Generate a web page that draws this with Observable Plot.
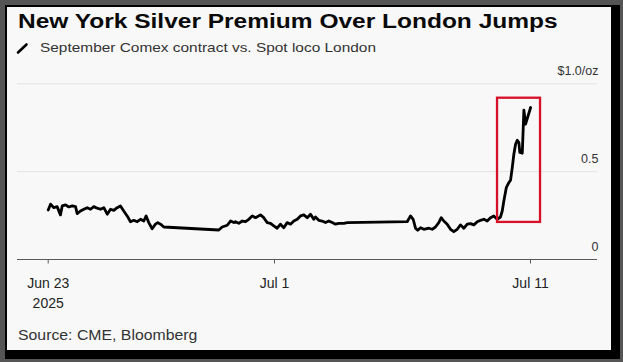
<!DOCTYPE html>
<html>
<head>
<meta charset="utf-8">
<script src="https://cdn.jsdelivr.net/npm/d3@7"></script>
<script src="https://cdn.jsdelivr.net/npm/@observablehq/plot@0.6"></script>
<style>
  html, body { margin: 0; padding: 0; }
  body { width: 623px; height: 362px; overflow: hidden; background: #555; position: relative;
         font-family: "Liberation Sans", Arial, sans-serif; }
  #shadow { position: absolute; left: 5px; top: 5px; width: 615px; height: 354px; background: #000; }
  #panel { position: absolute; left: 6.5px; top: 6.5px; width: 604px; height: 343.5px; background: #f8f8f8; }
  .t { position: absolute; white-space: nowrap; transform-origin: 0 0; }
  #title { left: 18px; top: 11.4px; font-size: 20px; line-height: 20px; font-weight: bold; color: #0a0a0a; transform: scaleX(1.225); }
  #subtitle { left: 39.5px; top: 40.7px; font-size: 13px; line-height: 13px; color: #333; transform: scaleX(1.186); }
  #caption { left: 18px; top: 328.2px; font-size: 14px; line-height: 14px; color: #333; transform: scaleX(1.13); }
  #key { position: absolute; left: 0; top: 0; }
  #chart { position: absolute; left: 0; top: 0; }
</style>
</head>
<body>
<div id="shadow"></div>
<div id="panel"></div>
<div id="chart"></div>
<svg id="key" width="40" height="60"><line x1="18" y1="52.5" x2="26.5" y2="44.5" stroke="#000" stroke-width="2.6" stroke-linecap="round"/></svg>
<div class="t" id="title">New York Silver Premium Over London Jumps</div>
<div class="t" id="subtitle">September Comex contract vs. Spot loco London</div>
<div class="t" id="caption">Source: CME, Bloomberg</div>
<script>
// Hours since 2025-06-23 00:00 UTC
const hours = [0,2,4.8,7.6,10.4,11.9,14.7,17.5,20.4,23.2,24.6,27.4,30.2,33.1,35.9,38.7,41.6,44.4,47.2,50.1,
  52.9,55.7,58.5,61.3,64.1,67,69.8,72.6,75.5,78.3,81.1,83.1,85.3,88.2,91,93,95.3,98.1,
  144.7,147.6,151.9,154.7,157.5,158.9,161.7,164.6,167.4,170.2,173.1,175.9,180.1,182.9,185.8,188.6,191.4,194.5,197.6,200.7,
  203.9,207,210.1,213.3,216.4,219.5,222.7,225.8,228.8,230.4,233.5,236.7,239.8,242.9,246.1,249.2,252.3,257,260.2,
  316.4,319.5,322,324.2,326.3,328.9,332,336.7,339.8,342.9,346,348.3,350.7,353.9,357,360.1,363.3,366.4,369.5,372.7,
  375.8,378.9,382.1,385.2,388.3,391.4,394.5,397.6,400.8,403.9,405.5,407,409.3,411.7,413.3,414.9,416.4,418,419.6,421.1,
  422,424.3,425.2,425.8,427.4,432.1];
// Premium, $/oz
const premium = [0.282,0.315,0.295,0.301,0.254,0.305,0.311,0.299,0.305,0.301,0.261,0.276,0.286,0.295,0.286,0.301,0.292,0.286,0.295,0.258,
  0.286,0.280,0.295,0.305,0.276,0.248,0.215,0.223,0.215,0.229,0.219,0.248,0.210,0.175,0.201,0.210,0.201,0.185,
  0.168,0.185,0.195,0.219,0.210,0.215,0.206,0.219,0.215,0.229,0.248,0.238,0.254,0.238,0.210,0.206,0.191,0.178,0.201,0.181,
  0.210,0.201,0.219,0.229,0.248,0.254,0.238,0.258,0.229,0.242,0.223,0.219,0.210,0.219,0.210,0.201,0.206,0.206,0.210,
  0.215,0.248,0.229,0.178,0.166,0.181,0.172,0.178,0.172,0.185,0.210,0.238,0.219,0.201,0.172,0.158,0.172,0.197,0.178,0.201,
  0.204,0.197,0.215,0.223,0.229,0.219,0.238,0.248,0.229,0.242,0.276,0.333,0.409,0.438,0.451,0.523,0.599,0.656,0.679,0.666,
  0.609,0.605,0.751,0.850,0.770,0.865];
// Axis ticks
const xTickDates = ["2025-06-23", "2025-07-01", "2025-07-11"];
const xTickLabels = ["Jun 23\n2025", "Jul 1", "Jul 11"];
const yTicks = [0, 0.5, 1.0];
const yTickLabels = ["0", "0.5", "$1.0/oz"];
// Highlight box (hours since start, premium)
const boxHours = [401.1, 441.4];
const boxPremium = [0.211, 0.918];

const base = Date.UTC(2025, 5, 23);
const toDate = h => new Date(base + h * 3600e3);
const data = hours.map((h, i) => ({date: toDate(h), value: premium[i]}));
const xTicks = xTickDates.map(s => new Date(s + "T00:00:00Z"));
const box = [{x1: toDate(boxHours[0]), x2: toDate(boxHours[1]), y1: boxPremium[0], y2: boxPremium[1]}];

const chart = Plot.plot({
  width: 623,
  height: 362,
  marginLeft: 17,
  marginRight: 26,
  marginTop: 80,
  marginBottom: 103,
  style: {background: "transparent", fontFamily: "'Liberation Sans', Arial, sans-serif", overflow: "visible"},
  x: {type: "utc", domain: xTicks, range: [47.7, 274, 530]},
  y: {domain: [0, 1], range: [259, 83.3], axis: null},
  marks: [
    Plot.ruleY([0.5, 1], {stroke: "#e3e3e3", strokeWidth: 1}),
    Plot.ruleY([0], {stroke: "#5a5a5a", strokeWidth: 1.2}),
    Plot.axisX(xTicks, {
      anchor: "bottom",
      tickSize: 4.5,
      tickPadding: 10.5,
      tickFormat: (d, i) => xTickLabels[i],
      fontSize: 14,
      lineHeight: 1.38,
      stroke: "#5a5a5a",
      fill: "#222"
    }),
    Plot.text(yTicks, {
      y: d => d,
      text: (d, i) => yTickLabels[i],
      frameAnchor: "right",
      textAnchor: "end",
      lineAnchor: "bottom",
      dx: 1,
      dy: -9,
      fontSize: 12.5,
      fill: "#333",
      ariaLabel: "ylabels"
    }),
    Plot.line(data, {x: "date", y: "value", stroke: "#000", strokeWidth: 2.8, strokeLinejoin: "round", strokeLinecap: "round"}),
    Plot.rect(box, {x1: "x1", x2: "x2", y1: "y1", y2: "y2", fill: "none", stroke: "#d70f28", strokeWidth: 2.3})
  ]
});
document.getElementById("chart").appendChild(chart);

// widen the y labels to match the reference's stretched lettering
chart.querySelectorAll('g[aria-label="ylabels"] text').forEach(t => {
  const w = t.getComputedTextLength();
  t.setAttribute("textLength", (w * 1.25).toFixed(1));
  t.setAttribute("lengthAdjust", "spacingAndGlyphs");
});
</script>
</body>
</html>
